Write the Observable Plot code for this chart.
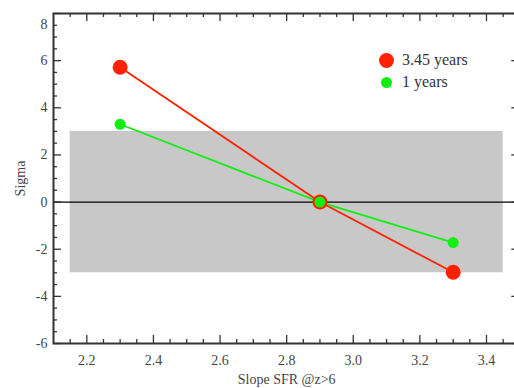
<!DOCTYPE html>
<html><head><meta charset="utf-8">
<script src="https://cdn.jsdelivr.net/npm/d3@7"></script>
<script src="https://cdn.jsdelivr.net/npm/@observablehq/plot@0.6"></script>
<style>
body{margin:0;background:#fff;}
#wrap{position:relative;width:514px;height:388px;overflow:hidden;}
#wrap svg text{font-family:"Liberation Serif",serif !important;}
.leg{position:absolute;font-family:"Liberation Serif",serif;font-size:16px;color:#333;line-height:1;white-space:nowrap;}
.sw{position:absolute;border-radius:50%;}
</style></head><body><div id="wrap"></div>
<script>
const slopes = [2.3, 2.9, 3.3];
const sigma345 = [5.72, 0, -2.98];
const sigma1 = [3.3, 0, -1.72];
const seriesNames = ["3.45 years", "1 years"];
const seriesColors = ["#ff2200", "#11ee11"];
const bandX = [2.15, 3.45];
const bandY = [-3, 3];
const xDomain = [2.1, 3.5];
const yDomain = [-6, 8];
const xMajor = [2.2, 2.4, 2.6, 2.8, 3.0, 3.2, 3.4];
const xMinor = [2.15, 2.25, 2.3, 2.35, 2.45, 2.5, 2.55, 2.65, 2.7, 2.75, 2.85, 2.9, 2.95, 3.05, 3.1, 3.15, 3.25, 3.3, 3.35, 3.45];
const yMajor = [-6, -4, -2, 0, 2, 4, 6, 8];
const yMinor = [-5.5, -5, -4.5, -3.5, -3, -2.5, -1.5, -1, -0.5, 0.5, 1, 1.5, 2.5, 3, 3.5, 4.5, 5, 5.5, 6.5, 7, 7.5];

const rows = (vals, name) => slopes.map((s, i) => ({slope: s, sigma: vals[i], series: name}));
const d345 = rows(sigma345, seriesNames[0]);
const d1 = rows(sigma1, seriesNames[1]);

const W = 514, H = 388, mL = 53, mT = 13, mB = 45, mR = -5.3;
const fw = W - mL - mR, fh = H - mT - mB;
const maj = 8, mnr = 4;
const axisColor = "#333";
const FONT = "Liberation Serif";

const chart = Plot.plot({
  width: W, height: H,
  marginLeft: mL, marginTop: mT, marginBottom: mB, marginRight: mR,
  style: {fontFamily: "'Liberation Serif', serif", fontSize: "14px", color: "#444", background: "#fff"},
  x: {domain: xDomain, label: null},
  y: {domain: yDomain, label: null},
  marks: [
    Plot.rect([{}], {x1: () => bandX[0], x2: () => bandX[1], y1: () => bandY[0], y2: () => bandY[1], fill: "#c8c8c8"}),
    Plot.ruleY([0], {stroke: "#000", strokeWidth: 1.2}),
    Plot.line(d1, {x: "slope", y: "sigma", stroke: seriesColors[1], strokeWidth: 1.8}),
    Plot.line(d345, {x: "slope", y: "sigma", stroke: seriesColors[0], strokeWidth: 1.8}),
    Plot.dot(d345, {x: "slope", y: "sigma", r: 7.5, fill: seriesColors[0]}),
    Plot.dot(d1, {x: "slope", y: "sigma", r: 5.5, fill: seriesColors[1]}),
    Plot.tickX(xMajor, {x: d => d, insetTop: fh - maj, stroke: axisColor, strokeWidth: 1.3}),
    Plot.tickX(xMinor, {x: d => d, insetTop: fh - mnr, stroke: axisColor, strokeWidth: 1.3}),
    Plot.tickX(xMajor, {x: d => d, insetBottom: fh - maj, stroke: axisColor, strokeWidth: 1.3}),
    Plot.tickX(xMinor, {x: d => d, insetBottom: fh - mnr, stroke: axisColor, strokeWidth: 1.3}),
    Plot.tickY(yMajor, {y: d => d, insetRight: fw - maj, stroke: axisColor, strokeWidth: 1.3}),
    Plot.tickY(yMinor, {y: d => d, insetRight: fw - mnr, stroke: axisColor, strokeWidth: 1.3}),
    Plot.tickY(yMajor, {y: d => d, insetLeft: fw - maj, stroke: axisColor, strokeWidth: 1.3}),
    Plot.tickY(yMinor, {y: d => d, insetLeft: fw - mnr, stroke: axisColor, strokeWidth: 1.3}),
    Plot.frame({stroke: axisColor, strokeWidth: 2}),
    Plot.axisX(xMajor, {tickSize: 0, tickPadding: 12, tickFormat: d3.format(".1f"), fontFamily: FONT, fontSize: 14, label: "Slope SFR @z>6", labelAnchor: "center", labelArrow: "none", labelOffset: 40, fill: "#444"}),
    Plot.axisY(yMajor, {tickSize: 0, tickPadding: 6, tickFormat: d => d === 8 ? "" : String(d), fontFamily: FONT, fontSize: 14, label: "Sigma", labelAnchor: "center", labelArrow: "none", labelOffset: 38, fill: "#444"}),
    Plot.text([8], {frameAnchor: "top-left", text: d => String(d), dx: -6, dy: 6, textAnchor: "end", fontFamily: FONT, fontSize: 14, fill: "#444"})
  ]
});
const wrap = document.getElementById("wrap");
wrap.appendChild(chart);

const legend = [
  {name: seriesNames[0], color: seriesColors[0], r: 7.5, cx: 386, cy: 60},
  {name: seriesNames[1], color: seriesColors[1], r: 5.5, cx: 386, cy: 82}
];
for (const l of legend) {
  const s = document.createElement("div");
  s.className = "sw";
  s.style.cssText = `left:${l.cx - l.r}px;top:${l.cy - l.r}px;width:${2*l.r}px;height:${2*l.r}px;background:${l.color};`;
  wrap.appendChild(s);
  const t = document.createElement("div");
  t.className = "leg";
  t.textContent = l.name;
  t.style.left = "402px";
  t.style.top = (l.cy - 8) + "px";
  wrap.appendChild(t);
}
</script></body></html>
